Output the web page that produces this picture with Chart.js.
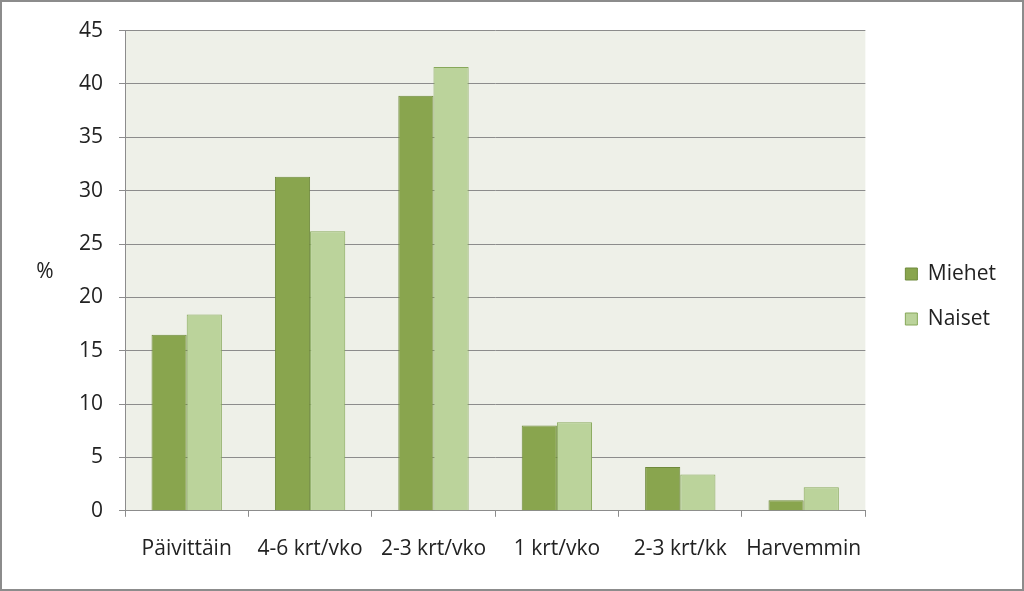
<!DOCTYPE html>
<html>
<head>
<meta charset="utf-8">
<script src="https://cdn.jsdelivr.net/npm/chart.js@4"></script>
<style>
  html, body { margin: 0; padding: 0; background: #fff; }
  #wrap { width: 1024px; height: 591px; box-sizing: border-box; border: 2px solid #8c8c8c; }
</style>
</head>
<body>
<div id="wrap"><canvas id="freqChart" width="1020" height="587"></canvas></div>
<script>
var categories = ["Päivittäin", "4-6 krt/vko", "2-3 krt/vko", "1 krt/vko", "2-3 krt/kk", "Harvemmin"];
var miehet = [16.5, 31.3, 38.9, 8.0, 4.1, 1.0];
var naiset = [18.4, 26.2, 41.6, 8.3, 3.4, 2.2];
var yTicks = [0, 5, 10, 15, 20, 25, 30, 35, 40, 45];

var FONT = 'Open Sans';

// plot area background and the "%" label
var plotBg = {
    id: 'plotBg',
    beforeDraw: function (chart) {
        var a = chart.chartArea, c = chart.ctx;
        c.save();
        c.fillStyle = '#eef0e8';
        c.fillRect(a.left, a.top, a.right - a.left, a.bottom - a.top);
        c.restore();
    },
    afterDraw: function (chart) {
        var a = chart.chartArea, c = chart.ctx;
        c.save();
        c.fillStyle = '#222';
        c.font = '21px "' + FONT + '"';
        c.textAlign = 'center';
        c.textBaseline = 'middle';
        c.fillText('%', 43, (a.top + a.bottom) / 2 + 1);
        c.restore();
    }
};

// empty axes used only as spacers
function spacer(pos, size) {
    return {
        position: pos,
        display: true,
        grid: { display: false, drawTicks: false },
        border: { display: false },
        ticks: { display: false },
        afterFit: function (axis) {
            if (pos === 'top') axis.height = size; else axis.width = size;
        }
    };
}

var ctx = document.getElementById('freqChart');
var freqChart = new Chart(ctx, {
    type: 'bar',
    plugins: [plotBg],
    data: {
        labels: categories,
        datasets: [{
            label: "Miehet",
            data: miehet,
            backgroundColor: "#89a54e",
            borderColor: "#6f8a3c",
            borderWidth: 1
        }, {
            label: "Naiset",
            data: naiset,
            backgroundColor: "#bbd39b",
            borderColor: "#87a85a",
            borderWidth: 1
        }]
    },
    options: {
        responsive: false,
        animation: false,
        devicePixelRatio: 1,
        layout: { padding: { top: 9, right: 16, bottom: 7, left: 0 } },
        datasets: { bar: { categoryPercentage: 0.57, barPercentage: 1.0 } },
        plugins: {
            tooltip: { enabled: false },
            legend: {
                position: 'right',
                labels: {
                    font: { family: FONT, size: 21 },
                    color: '#222',
                    boxWidth: 12,
                    boxHeight: 12,
                    padding: 24
                }
            }
        },
        scales: {
            x: {
                grid: { drawOnChartArea: false, drawTicks: true, tickLength: 6, color: '#8c8c8c', offset: true },
                border: { color: '#8c8c8c' },
                ticks: { font: { family: FONT, size: 21 }, color: '#222', padding: 20, maxRotation: 0 }
            },
            xTop: Object.assign({ type: 'category' }, spacer('top', 17)),
            y: {
                min: 0,
                max: 45,
                afterBuildTicks: function (axis) {
                    axis.ticks = yTicks.map(function (v) { return { value: v }; });
                },
                afterFit: function (axis) { axis.width = 123; },
                grid: { color: '#8c8c8c', tickLength: 6 },
                border: { color: '#8c8c8c' },
                ticks: { font: { family: FONT, size: 21 }, color: '#222', padding: 16 }
            },
            yRight: Object.assign({ type: 'linear' }, spacer('right', 16))
        }
    }
});
</script>
</body>
</html>
